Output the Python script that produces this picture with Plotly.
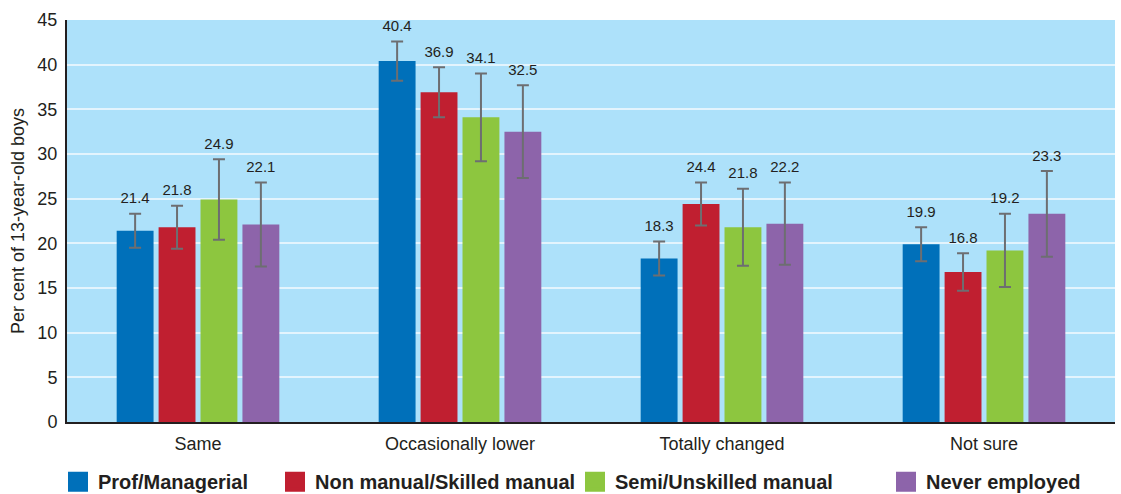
import plotly.graph_objects as go

# Datos
categorias = ["Same", "Occasionally lower", "Totally changed", "Not sure"]
grupos = ["Prof/Managerial", "Non manual/Skilled manual", "Semi/Unskilled manual", "Never employed"]
colores = ["#0070BA", "#C01F30", "#8DC63F", "#8D64AA"]

valores = {
    "Prof/Managerial": [21.4, 40.4, 18.3, 19.9],
    "Non manual/Skilled manual": [21.8, 36.9, 24.4, 16.8],
    "Semi/Unskilled manual": [24.9, 34.1, 21.8, 19.2],
    "Never employed": [22.1, 32.5, 22.2, 23.3],
}
errores = {
    "Prof/Managerial": [1.9, 2.2, 1.9, 1.9],
    "Non manual/Skilled manual": [2.4, 2.8, 2.4, 2.1],
    "Semi/Unskilled manual": [4.5, 4.9, 4.3, 4.1],
    "Never employed": [4.7, 5.2, 4.6, 4.8],
}

# posición (px, izquierda) de cada entrada de la leyenda
leyenda_x = [58, 275, 575, 886]

fig = go.Figure()
for i, (grupo, color) in enumerate(zip(grupos, colores)):
    y = valores[grupo]
    e = errores[grupo]
    fig.add_trace(go.Bar(
        x=categorias, y=y, name=grupo,
        marker=dict(color=color, line=dict(width=0)),
        offsetgroup=grupo, showlegend=False,
        error_y=dict(type="data", array=e, color="#6D6E71", thickness=2, width=6),
    ))
    # etiquetas encima de la barra de error (marcador invisible para separar el texto)
    fig.add_trace(go.Scatter(
        x=categorias, y=[v + d for v, d in zip(y, e)],
        mode="markers+text", text=[f"{v:.1f}" for v in y],
        marker=dict(size=9, opacity=0),
        textposition="top center", offsetgroup=grupo,
        textfont=dict(size=15, color="#231F20"),
        cliponaxis=False,
        showlegend=False, hoverinfo="skip",
    ))
    # entrada de leyenda con cuadrado grande (una leyenda por grupo)
    nombre_leyenda = "legend" if i == 0 else f"legend{i + 1}"
    fig.add_trace(go.Scatter(
        x=[None], y=[None], mode="markers", name=grupo,
        marker=dict(symbol="square", size=16, color=color, line=dict(width=4, color=color)),
        legend=nombre_leyenda, hoverinfo="skip",
    ))

estilo_leyenda = dict(
    orientation="h", xanchor="left", xref="container",
    yref="container", y=0.025, yanchor="middle",
    font=dict(size=20, family="Liberation Sans", weight="bold", color="#231F20"),
    itemsizing="trace", bgcolor="rgba(0,0,0,0)",
)
leyendas = {}
for i, x0 in enumerate(leyenda_x):
    nombre = "legend" if i == 0 else f"legend{i + 1}"
    leyendas[nombre] = dict(estilo_leyenda, x=x0 / 1121)

fig.update_layout(
    width=1121, height=494,
    barmode="group", scattermode="group",
    bargap=0.36, bargroupgap=0.12,
    plot_bgcolor="#ADE1FA", paper_bgcolor="white",
    margin=dict(l=67, r=6, t=20, b=72, autoexpand=False),
    font=dict(family="Liberation Sans, Arial, sans-serif", color="#231F20"),
    yaxis=dict(
        title=dict(text="Per cent of 13-year-old boys", font=dict(size=18), standoff=8),
        range=[0, 45], dtick=5, tickfont=dict(size=18),
        showgrid=True, gridcolor="#E3F4FD", gridwidth=2,
        showline=True, linecolor="#231F20", linewidth=2,
        ticks="", zeroline=False, automargin=False, ticklabelstandoff=4,
    ),
    xaxis=dict(
        tickfont=dict(size=18), automargin=False, ticklabelstandoff=4,
        showline=True, linecolor="#231F20", linewidth=2,
        ticks="",
    ),
    **leyendas,
)

# quitar el margen por defecto del <body>
fig.write_html("out.html", config={"displayModeBar": False},
               post_script="document.body.style.margin='0';")
